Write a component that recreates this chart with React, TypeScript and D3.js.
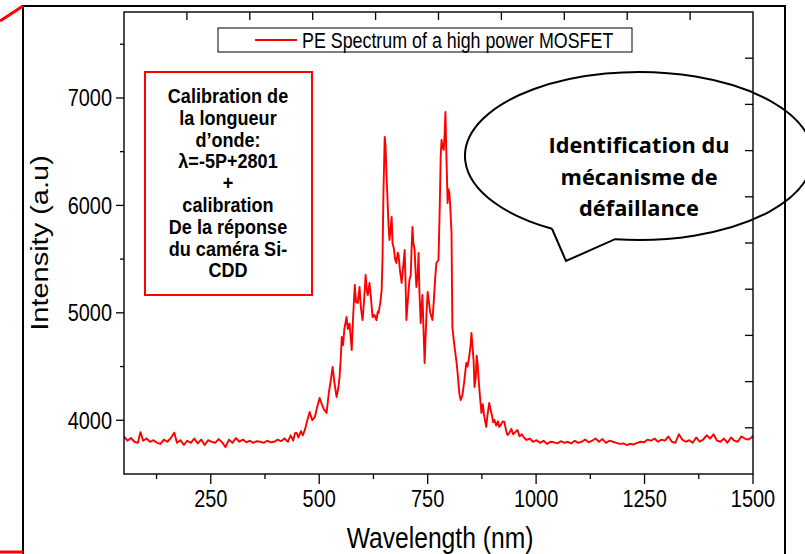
import React from 'react';
import * as d3 from 'd3';

// ---------- data ----------
const baselineLeft: [number, number][] = [
  [50, 3850], [58, 3810], [66, 3835], [74, 3800], [82, 3790], [88, 3890], [94, 3810], [102, 3830],
  [110, 3800], [118, 3815], [126, 3790], [134, 3780], [142, 3820], [150, 3800], [158, 3835], [166, 3885],
  [172, 3790], [180, 3815], [188, 3770], [196, 3810], [204, 3790], [212, 3830], [220, 3785], [228, 3820],
  [236, 3770], [244, 3815], [252, 3800], [260, 3790], [268, 3825], [276, 3795], [284, 3750], [292, 3820],
  [300, 3790], [308, 3835], [316, 3800], [324, 3820], [332, 3795], [340, 3810], [348, 3790], [356, 3805],
  [364, 3800], [372, 3790], [380, 3810], [388, 3795], [396, 3800], [404, 3820], [412, 3805], [420, 3830],
  [428, 3800], [434, 3860], [440, 3810], [444, 3880],
];

const peakRegion: [number, number][] = [
  [448, 3882], [452, 3840], [458, 3900], [462, 3860], [467, 3910], [472, 3990], [478, 4077], [484, 4000],
  [490, 4031], [495, 4120], [501, 4207], [506, 4150], [511, 4100], [517, 4068], [522, 4250], [527, 4380],
  [531, 4496], [535, 4350], [540, 4217], [544, 4300], [547, 4403], [550, 4600], [552, 4775], [555, 4700],
  [558, 4850], [563, 4961], [566, 4850], [570, 4900], [575, 4654], [578, 4950], [582, 5259], [585, 5100],
  [589, 5092], [593, 5241], [596, 5050], [600, 4933], [604, 5150], [607, 5352], [610, 5200], [612, 5166],
  [616, 5278], [619, 5150], [623, 4961], [627, 4980], [632, 4933], [635, 5010], [637, 4999], [641, 5100],
  [644, 5213], [646, 5520], [648, 6100], [651, 6637], [653, 6550], [655, 6302], [658, 6000], [660, 5800],
  [662, 5678], [665, 5800], [667, 5892], [669, 5650], [672, 5600], [675, 5500], [678, 5464], [681, 5560],
  [683, 5538], [686, 5400], [690, 5278], [693, 5400], [697, 5585], [699, 5300], [701, 4933], [704, 5100],
  [708, 5306], [711, 5350], [713, 5600], [715, 5799], [717, 5650], [720, 5585], [722, 5400], [724, 5241],
  [727, 5350], [729, 5557], [731, 5200], [734, 4906], [736, 5050], [738, 5166], [740, 4900], [743, 4533],
  [745, 4750], [747, 4961], [750, 5194], [753, 5100], [756, 5000], [761, 4933], [764, 5100], [767, 5300],
  [770, 5464], [773, 5480], [775, 5492], [778, 6000], [780, 6450], [782, 6609], [784, 6550], [787, 6516],
  [789, 6650], [791, 6869], [793, 6500], [796, 6022], [798, 6150], [800, 6115], [802, 6000], [805, 5743],
  [807, 4868], [810, 4750], [813, 4650], [816, 4561], [820, 4400], [823, 4250], [826, 4189], [830, 4230],
  [834, 4350], [839, 4533], [842, 4500], [846, 4600], [849, 4700], [851, 4812], [854, 4650], [856, 4550],
  [858, 4310], [861, 4400], [863, 4600], [865, 4533], [868, 4350], [871, 4200], [874, 4068], [877, 4150],
  [880, 4050], [883, 3980], [885, 3938], [888, 4050], [892, 4161], [895, 4100], [898, 4050], [901, 3980],
  [904, 4003], [908, 3950], [912, 3990], [915, 3938], [919, 3960], [923, 3990], [927, 3984], [931, 3900],
  [934, 3863], [938, 3880], [943, 3920], [947, 3870], [952, 3890], [957, 3910], [962, 3850], [967, 3870],
  [972, 3840], [978, 3817],
];

const baselineRight: [number, number][] = [
  [985, 3830], [993, 3800], [1001, 3815], [1009, 3790], [1017, 3810], [1025, 3780], [1033, 3800], [1041, 3795],
  [1049, 3785], [1057, 3805], [1065, 3790], [1073, 3800], [1081, 3785], [1089, 3810], [1097, 3790], [1105, 3800],
  [1113, 3820], [1121, 3795], [1129, 3810], [1137, 3830], [1145, 3800], [1153, 3825], [1161, 3790], [1169, 3810],
  [1177, 3800], [1185, 3790], [1193, 3780], [1201, 3785], [1209, 3770], [1217, 3780], [1225, 3775], [1233, 3790],
  [1241, 3800], [1249, 3795], [1257, 3820], [1265, 3810], [1273, 3830], [1281, 3800], [1289, 3820], [1297, 3810],
  [1305, 3850], [1313, 3800], [1321, 3790], [1329, 3870], [1337, 3820], [1345, 3800], [1353, 3815], [1361, 3790],
  [1369, 3840], [1377, 3800], [1385, 3820], [1393, 3860], [1401, 3830], [1409, 3870], [1417, 3810], [1425, 3800],
  [1433, 3830], [1441, 3790], [1449, 3840], [1457, 3810], [1465, 3800], [1473, 3850], [1481, 3830], [1489, 3820],
  [1497, 3840], [1500, 3860],
];

const xMajorTicks = [250, 500, 750, 1000, 1250, 1500];
const xMinorTicks = [125, 375, 625, 875, 1125, 1375];
const yMajorTicks = [4000, 5000, 6000, 7000];
const yMinorTicks = [4500, 5500, 6500, 7500];
const xDomain = [50, 1500];
const yDomain = [3500, 7800];
const xTitle = 'Wavelength (nm)';
const yTitle = 'Intensity (a.u)';
const legendLabel = 'PE Spectrum of a high power MOSFET';
const calibrationLines = [
  'Calibration de', 'la longueur', 'd’onde:', 'λ=-5P+2801', '+',
  'calibration', 'De la réponse', 'du caméra Si-', 'CDD',
];
const bubbleLines = ['Identification du', 'mécanisme de', 'défaillance'];

// ---------- layout ----------
const W = 805, H = 554;
const L = 124, R = 753, T = 12, B = 474;
const ARIAL = "'Liberation Sans', Arial, sans-serif";
const SX = 0.83;

function SText(props: any) {
  const { x, y, size, anchor = 'middle', weight = 'normal', family = ARIAL, sx = SX, rotate = 0, fill = '#000', children } = props;
  return (
    <text
      transform={`translate(${x},${y}) scale(${sx},1)${rotate ? ` rotate(${rotate})` : ''}`}
      fontSize={size}
      textAnchor={anchor}
      fontFamily={family}
      fontWeight={weight}
      fill={fill}
    >
      {children}
    </text>
  );
}

export default function App() {
  const x = d3.scaleLinear().domain(xDomain).range([L, R]);
  const y = d3.scaleLinear().domain(yDomain).range([B, T]);
  const topDiv = d3.scaleLinear().domain([0, 10]).range([L, R]);
  const rightDiv = d3.scaleLinear().domain([0, 10]).range([T, B]);
  const data = [...baselineLeft, ...peakRegion, ...baselineRight];
  const line = d3.line<[number, number]>().x(d => x(d[0])).y(d => y(d[1]));

  // speech bubble geometry
  const cx = 639, cy = 156, rx = 174, ry = 84;
  const ax = 552, ay = cy + ry * Math.sqrt(1 - ((ax - cx) / rx) ** 2);
  const bx = 615, by = cy + ry * Math.sqrt(1 - ((bx - cx) / rx) ** 2);
  const bubblePath = `M${ax},${ay} L566,261 L${bx},${by} A${rx},${ry} 0 1 0 ${ax},${ay}`;

  const divs = d3.range(1, 10);

  return (
    <svg width={W} height={H} style={{ position: 'absolute', left: 0, top: 0, background: '#fff' }}>
      <rect x={0} y={0} width={W} height={H} fill="#fff" />
      {/* outer frame */}
      <path d={`M23,554 L23,6 L785,6 L785,554`} fill="none" stroke="#000" strokeWidth={2} />
      <line x1={0} y1={21} x2={23} y2={6} stroke="#ff0000" strokeWidth={3} />
      <line x1={0} y1={552} x2={23} y2={552} stroke="#ff0000" strokeWidth={3} />

      <defs>
        <clipPath id="plotClip">
          <rect x={L} y={T} width={R - L} height={B - T} />
        </clipPath>
      </defs>

      {/* spectrum */}
      <path d={line(data) || ''} fill="none" stroke="#ff0000" strokeWidth={1.9} strokeLinejoin="round" clipPath="url(#plotClip)" />

      {/* plot frame */}
      <rect x={L} y={T} width={R - L} height={B - T} fill="none" stroke="#000" strokeWidth={1.4} />

      {/* bottom axis ticks */}
      {xMajorTicks.map(v => (
        <line key={'xM' + v} x1={x(v)} x2={x(v)} y1={B} y2={B + 10} stroke="#000" strokeWidth={1.3} />
      ))}
      {xMinorTicks.map(v => (
        <line key={'xm' + v} x1={x(v)} x2={x(v)} y1={B} y2={B + 5} stroke="#000" strokeWidth={1.3} />
      ))}
      {xMajorTicks.map(v => (
        <SText key={'xl' + v} x={x(v)} y={507} size={24}>{v}</SText>
      ))}

      {/* left axis ticks */}
      {yMajorTicks.map(v => (
        <line key={'yM' + v} x1={L - 8} x2={L} y1={y(v)} y2={y(v)} stroke="#000" strokeWidth={1.3} />
      ))}
      {yMinorTicks.map(v => (
        <line key={'ym' + v} x1={L - 4} x2={L} y1={y(v)} y2={y(v)} stroke="#000" strokeWidth={1.3} />
      ))}
      {yMajorTicks.map(v => (
        <SText key={'yl' + v} x={112} y={y(v) + 8.5} size={24} anchor="end">{v}</SText>
      ))}

      {/* top and right inward ticks */}
      {divs.map(i => (
        <line key={'t' + i} x1={topDiv(i)} x2={topDiv(i)} y1={T} y2={T + 8} stroke="#000" strokeWidth={1.3} />
      ))}
      {divs.map(i => (
        <line key={'r' + i} x1={R - 8} x2={R} y1={rightDiv(i)} y2={rightDiv(i)} stroke="#000" strokeWidth={1.3} />
      ))}

      {/* axis titles */}
      <SText x={440} y={548} size={29} sx={0.85}>{xTitle}</SText>
      <SText x={48} y={243} size={29} rotate={-90} sx={0.82}>{yTitle}</SText>

      {/* legend */}
      <rect x={218} y={28} width={414} height={24} fill="#fff" stroke="#000" strokeWidth={1} />
      <line x1={255} x2={297} y1={40} y2={40} stroke="#ff0000" strokeWidth={2} />
      <SText x={302} y={48} size={21.5} anchor="start">{legendLabel}</SText>

      {/* calibration box */}
      <rect x={145} y={72} width={167} height={223} fill="#fff" stroke="#ff0000" strokeWidth={2} />
      {calibrationLines.map((t, i) => (
        <SText key={'c' + i} x={228} y={103 + i * 21.8} size={21} weight="bold" sx={0.86}>{t}</SText>
      ))}

      {/* speech bubble */}
      <path d={bubblePath} fill="none" stroke="#000" strokeWidth={2} />
      {bubbleLines.map((t, i) => {
        const widths = [181, 157, 120];
        return (
          <text
            key={'b' + i}
            x={639}
            y={153 + i * 31.5}
            fontSize={22}
            fontWeight="bold"
            fontFamily="'Open Sans', Lato, sans-serif"
            textAnchor="middle"
            textLength={widths[i]}
            lengthAdjust="spacingAndGlyphs"
            fill="#000"
          >
            {t}
          </text>
        );
      })}
    </svg>
  );
}
